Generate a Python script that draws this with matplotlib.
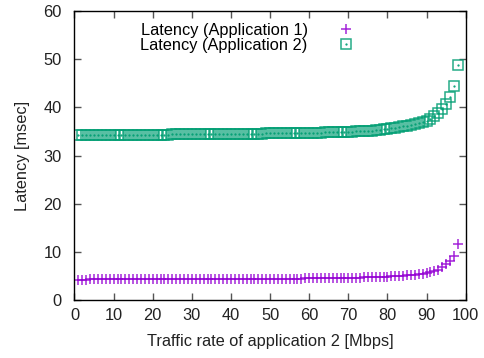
import numpy as np
import matplotlib
matplotlib.use("Agg")
import matplotlib.pyplot as plt
from matplotlib.legend_handler import HandlerTuple

plt.rcParams['font.family'] = ['Liberation Sans', 'DejaVu Sans']
plt.rcParams['font.size'] = 11.8

# traffic rate of application 2 [Mbps]
rate = list(range(1, 99))

# latency of application 1 [msec]
lat_app1 = [
    4.25, 4.25, 4.25, 4.26, 4.26, 4.26, 4.26, 4.26, 4.26, 4.27,
    4.27, 4.27, 4.27, 4.27, 4.28, 4.28, 4.28, 4.28, 4.29, 4.29,
    4.29, 4.29, 4.30, 4.30, 4.30, 4.30, 4.31, 4.31, 4.31, 4.31,
    4.32, 4.32, 4.32, 4.33, 4.33, 4.33, 4.34, 4.34, 4.35, 4.35,
    4.35, 4.36, 4.36, 4.37, 4.37, 4.38, 4.38, 4.39, 4.39, 4.40,
    4.41, 4.41, 4.42, 4.43, 4.43, 4.44, 4.45, 4.46, 4.47, 4.48,
    4.48, 4.49, 4.51, 4.52, 4.53, 4.54, 4.55, 4.57, 4.58, 4.60,
    4.62, 4.64, 4.66, 4.68, 4.70, 4.73, 4.75, 4.78, 4.81, 4.85,
    4.89, 4.93, 4.98, 5.04, 5.10, 5.17, 5.25, 5.35, 5.46, 5.60,
    5.77, 5.98, 6.30, 6.80, 7.40, 8.20, 9.10, 11.60,
]

# latency of application 2 [msec]
lat_app2 = [
    34.25, 34.25, 34.26, 34.26, 34.27, 34.27, 34.28, 34.28, 34.29, 34.29,
    34.30, 34.30, 34.31, 34.31, 34.32, 34.32, 34.33, 34.33, 34.34, 34.35,
    34.35, 34.36, 34.36, 34.37, 34.38, 34.38, 34.39, 34.40, 34.40, 34.41,
    34.42, 34.43, 34.43, 34.44, 34.45, 34.46, 34.47, 34.48, 34.49, 34.50,
    34.50, 34.51, 34.52, 34.53, 34.54, 34.55, 34.56, 34.57, 34.58, 34.59,
    34.60, 34.61, 34.62, 34.63, 34.65, 34.66, 34.67, 34.69, 34.70, 34.72,
    34.74, 34.76, 34.78, 34.80, 34.82, 34.84, 34.87, 34.90, 34.92, 34.95,
    34.98, 35.02, 35.06, 35.10, 35.14, 35.19, 35.25, 35.35, 35.45, 35.55,
    35.66, 35.78, 35.91, 36.05, 36.21, 36.38, 36.57, 36.78, 37.01, 37.27,
    37.65, 38.20, 38.90, 39.70, 40.70, 42.20, 44.40, 48.80,
]

purple = '#9400d3'
green = '#009e73'

fig = plt.figure(figsize=(4.85, 3.58), dpi=100)
ax = fig.add_axes([0.1536, 0.162, 0.8066, 0.807])

p1, = ax.plot(rate, lat_app1, linestyle='none', marker='+', ms=6.5, mew=1.1,
              color=purple, alpha=0.85)
p2, = ax.plot(rate, lat_app2, linestyle='none', marker='s', ms=7, mew=1.1,
              mfc='none', mec=green, alpha=0.85)
p2d, = ax.plot(rate, lat_app2, linestyle='none', marker='.', ms=1.2,
               color=green)

ax.set_xlim(0, 100)
ax.set_ylim(0, 60)
ax.set_xticks(np.arange(0, 101, 10))
ax.set_yticks(np.arange(0, 61, 10))
ax.tick_params(direction='in', length=5, width=1, color='#555555',
               top=True, right=True, pad=6, labelcolor='#222222')
ax.tick_params(axis='y', pad=9)
for s in ax.spines.values():
    s.set_linewidth(1.0)
    s.set_color('black')

ax.set_xlabel('Traffic rate of application 2 [Mbps]', color='#222222',
              labelpad=8)
ax.set_ylabel('Latency [msec]', color='#222222', labelpad=10)

leg = ax.legend([p1, (p2, p2d)],
                ['Latency (Application 1)', 'Latency (Application 2)'],
                handler_map={tuple: HandlerTuple(ndivide=1)},
                loc='upper right', bbox_to_anchor=(0.755, 1.0),
                markerfirst=False, frameon=False, handlelength=1.5,
                handletextpad=1.6, labelspacing=0.0, borderaxespad=0.3)

fig.savefig('out.png', dpi=100)
